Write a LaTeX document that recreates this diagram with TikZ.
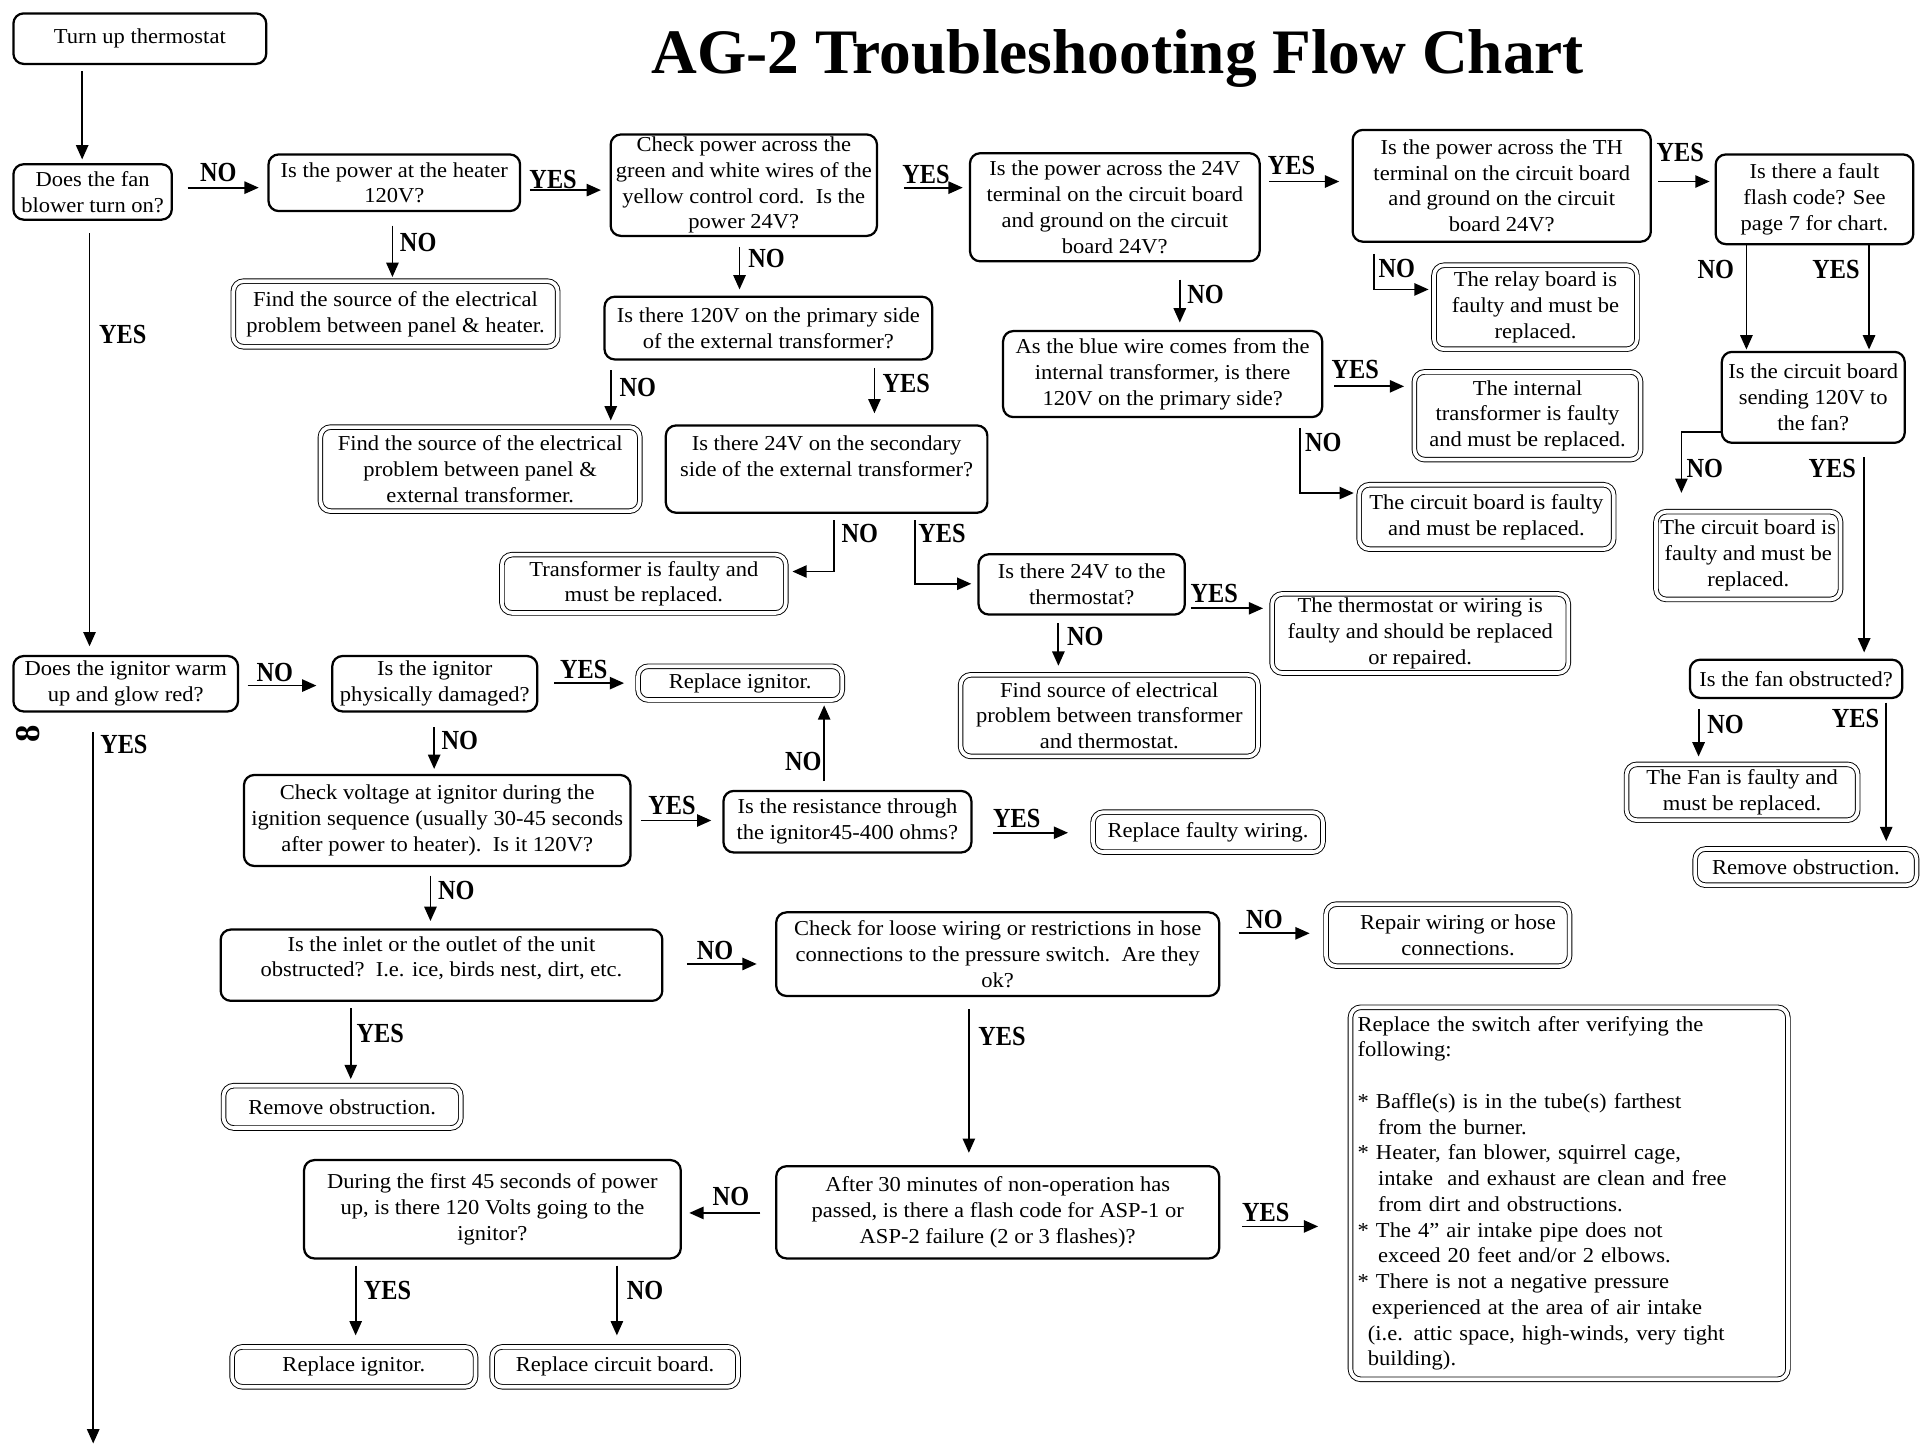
\documentclass[tikz,border=0pt]{standalone}
\usepackage{fontspec}
\setmainfont{Liberation Serif}[FakeStretch=1.06]
\newfontfamily\plainserif{Liberation Serif}
\newfontfamily\lblfam{Liberation Serif}[FakeStretch=0.88]
\usetikzlibrary{arrows.meta}
\newcommand\txtfont{\fontsize{10.4}{12.6}\selectfont}
\newcommand\lblfont{\lblfam\fontsize{13.5}{15}\selectfont\bfseries}
\tikzset{
 qbox/.style={draw, line width=1.1pt, rounded corners=5pt, inner sep=1.2pt, align=center, font=\txtfont},
 abox/.style={draw, double, double distance=1.8pt, line width=0.45pt, rounded corners=5pt, inner sep=1.2pt, align=center, font=\txtfont},
 lbl/.style={font=\lblfont, inner sep=0pt},
 arr/.style={line width=0.9pt, -{Triangle[length=7pt,width=6pt]}}
}
\newcommand\qb[6]{%
 \pgfmathsetmacro\bw{(#4-#2)*0.6-1.1}%
 \pgfmathsetmacro\bh{(#5-#3)*0.6-1.1}%
 \node[qbox, minimum width=\bw pt, minimum height=\bh pt] (#1) at ({(#2+#4)/2},{(#3+#5)/2}) {#6};}
\newcommand\ab[6]{%
 \pgfmathsetmacro\bw{(#4-#2)*0.6-2.7}%
 \pgfmathsetmacro\bh{(#5-#3)*0.6-2.7}%
 \node[abox, minimum width=\bw pt, minimum height=\bh pt] (#1) at ({(#2+#4)/2},{(#3+#5)/2}) {#6};}
\begin{document}
\begin{tikzpicture}[x=0.6pt,y=-0.6pt]
\fill[white] (0,0) rectangle (1568,1178);
\useasboundingbox (0,0) rectangle (1568,1178);
\node[font=\plainserif\fontsize{31}{36}\selectfont\bfseries, inner sep=0pt] (title) at (911.5,48) {AG-2 Troubleshooting Flow Chart};
% boxes
\qb{T0}{10}{10}{218}{53}{Turn up thermostat}
\qb{Q1}{10}{133}{141}{180}{Does the fan\\blower turn on?}
\qb{Q2}{218}{125}{425}{173}{Is the power at the heater\\120V?}
\ab{A1}{188}{227}{457}{285}{Find the source of the electrical\\problem between panel \& heater.}
\qb{Q3}{497}{110}{716}{192}{Check power across the\\green and white wires of the\\yellow control cord.\ \ Is the\\power 24V?}
\qb{Q4}{492}{241}{761}{294}{Is there 120V on the primary side\\of the external transformer?}
\ab{A2}{259}{346}{524}{419}{Find the source of the electrical\\problem between panel \&\\external transformer.}
\qb{Q5}{542}{346}{806}{419}{Is there 24V on the secondary\\side of the external transformer?\\ \mbox{}}
\ab{A3}{407}{450}{643}{502}{Transformer is faulty and\\must be replaced.}
\qb{Q6}{790}{124}{1028}{214}{Is the power across the 24V\\terminal on the circuit board\\and ground on the circuit\\board 24V?}
\qb{Q7}{817}{269}{1079}{341}{As the blue wire comes from the\\internal transformer, is there\\120V on the primary side?}
\ab{A4}{1151}{301}{1340}{377}{The internal\\transformer is faulty\\and must be replaced.}
\ab{A5}{1106}{393}{1318}{450}{The circuit board is faulty\\and must be replaced.}
\qb{Q8}{1102}{105}{1347}{198}{Is the power across the TH\\terminal on the circuit board\\and ground on the circuit\\board 24V?}
\ab{A6}{1167}{214}{1337}{287}{The relay board is\\faulty and must be\\replaced.}
\qb{Q9}{1398}{125}{1561}{200}{Is there a fault\\flash code? See\\page 7 for chart.}
\qb{Q10}{1403}{286}{1554}{362}{Is the circuit board\\sending 120V to\\the fan?}
\ab{A7}{1348}{415}{1503}{491}{The circuit board is\\faulty and must be\\replaced.}
\qb{Q11}{1377}{537}{1552}{570}{Is the fan obstructed?}
\ab{A8}{1324}{621}{1517}{671}{The Fan is faulty and\\must be replaced.}
\ab{A9}{1380}{690}{1565}{724}{Remove obstruction.}
\qb{Q12}{797}{451}{967}{502}{Is there 24V to the\\thermostat?}
\ab{A10}{1035}{482}{1281}{551}{The thermostat or wiring is\\faulty and should be replaced\\or repaired.}
\ab{A11}{781}{548}{1028}{619}{Find source of electrical\\problem between transformer\\and thermostat.}
\qb{Q13}{10}{534}{195}{581}{Does the ignitor warm\\up and glow red?}
\qb{Q14}{270}{534}{439}{581}{Is the ignitor\\physically damaged?}
\ab{A12}{518}{541}{689}{573}{Replace ignitor.}
\qb{Q15}{198}{631}{515}{707}{Check voltage at ignitor during the\\ignition sequence (usually 30-45 seconds\\after power to heater).\ \ Is it 120V?}
\qb{Q16}{589}{644}{793}{696}{Is the resistance through\\the ignitor45-400 ohms?}
\ab{A13}{889}{660}{1081}{697}{Replace faulty wiring.}
\qb{Q17}{179}{757}{541}{817}{Is the inlet or the outlet of the unit\\obstructed?\ \ I.e. ice, birds nest, dirt, etc.\\[-4pt]\mbox{}}
\ab{A14}{180}{883}{378}{922}{Remove obstruction.}
\qb{Q18}{632}{743}{995}{813}{Check for loose wiring or restrictions in hose\\connections to the pressure switch.\ \ Are they\\ok?}
\ab{A15}{1079}{735}{1282}{790}{\hspace*{10pt}Repair wiring or hose\\\hspace*{10pt}connections.}
\qb{Q19}{632}{950}{995}{1027}{After 30 minutes of non-operation has\\passed, is there a flash code for ASP-1 or\\ASP-2 failure (2 or 3 flashes)?}
\qb{Q20}{247}{945}{556}{1027}{During the first 45 seconds of power\\up, is there 120 Volts going to the\\ignitor?}
\ab{A16}{187}{1096}{390}{1133}{Replace ignitor.}
\ab{A17}{399}{1096}{604}{1133}{Replace circuit board.}
\node[abox, align=left, inner sep=3.5pt, text width=207pt, minimum height=182pt] (A18) at (1279.5,973) {Replace the switch after verifying the\\following:\\ \mbox{}\\{}* Baffle(s) is in the tube(s) farthest\\\hspace*{10pt}from the burner.\\{}* Heater, fan blower, squirrel cage,\\\hspace*{10pt}intake\ \ and exhaust are clean and free\\\hspace*{10pt}from dirt and obstructions.\\{}* The 4” air intake pipe does not\\\hspace*{10pt}exceed 20 feet and/or 2 elbows.\\{}* There is not a negative pressure\\\hspace*{7pt}experienced at the area of air intake\\\hspace*{5pt}(i.e. attic space, high-winds, very tight\\\hspace*{5pt}building).};
\node[font=\plainserif\fontsize{17}{18}\selectfont\bfseries, rotate=90, inner sep=0pt] (pg) at (23,598) {8};
\coordinate (bend) at (76,1177);
% connectors
\draw[arr] ([shift={(-47,5)}]T0.south) -- ([shift={(-8.5,-3)}]Q1.north);
\draw[arr] ([shift={(12,-3.5)}]Q1.east) -- ([shift={(-7,4)}]Q2.west);
\draw[arr] ([shift={(7,6)}]Q2.east) -- ([shift={(-7,4)}]Q3.west);
\draw[arr] ([shift={(-1.5,11)}]Q2.south) -- ([shift={(-2.5,-3)}]A1.north);
\draw[arr] ([shift={(21,2)}]Q3.east) -- ([shift={(-5,-16)}]Q6.west);
\draw[arr] ([shift={(-3.5,8)}]Q3.south) -- ([shift={(-23.5,-5)}]Q4.north);
\draw[arr] ([shift={(-128.5,8)}]Q4.south) -- ([shift={(106.5,-5)}]A2.north);
\draw[arr] ([shift={(86.5,6)}]Q4.south) -- ([shift={(39,-9)}]Q5.north);
\draw[arr] ([shift={(6,5)}]Q5.south) |- ([shift={(5,-10)}]A3.east);
\draw[arr] ([shift={(72,5)}]Q5.south) |- ([shift={(-5,-0.5)}]Q12.west);
\draw[arr] ([shift={(7,-21)}]Q6.east) -- ([shift={(-10,-3.5)}]Q8.west);
\draw[arr] ([shift={(53,14)}]Q6.south) -- ([shift={(14,-6)}]Q7.north);
\draw[arr] ([shift={(9,10)}]Q7.east) -- ([shift={(-8,-24)}]A4.west);
\draw[arr] ([shift={(112,8)}]Q7.south) |- ([shift={(-4,-19.5)}]A5.west);
\draw[arr] ([shift={(-104.5,9)}]Q8.south) |- ([shift={(-4,-14.5)}]A6.west);
\draw[arr] ([shift={(5,-3.5)}]Q8.east) -- ([shift={(-4,-14.5)}]Q9.west);
\draw[arr] ([shift={(-55.5,0)}]Q9.south) -- ([shift={(-54.5,-1)}]Q10.north);
\draw[arr] ([shift={(44.5,0)}]Q9.south) -- ([shift={(45.5,-1)}]Q10.north);
\draw[arr] ([shift={(0,28)}]Q10.west) -| ([shift={(-54.5,-15)}]A7.north);
\draw[arr] ([shift={(41.5,11)}]Q10.south) -- ([shift={(55.5,-5)}]Q11.north);
\draw[arr] ([shift={(-79.5,8)}]Q11.south) -- ([shift={(-35.5,-6)}]A8.north);
\draw[arr] ([shift={(73.5,3)}]Q11.south) -- ([shift={(65.5,-6)}]A9.north);
\draw[arr] ([shift={(4,19.5)}]Q12.east) -- ([shift={(-7,-20.5)}]A10.west);
\draw[arr] ([shift={(-19,6)}]Q12.south) -- ([shift={(-41.5,-7)}]A11.north);
\draw[arr] ([shift={(-2.5,10)}]Q1.south) -- ([shift={(-29.5,-7)}]Q13.north);
\draw[arr] ([shift={(7,1.5)}]Q13.east) -- ([shift={(-12,1.5)}]Q14.west);
\draw[arr] ([shift={(13,-0.5)}]Q14.east) -- ([shift={(-11,0)}]A12.west);
\draw[arr] ([shift={(-0.5,12)}]Q14.south) -- ([shift={(-2.5,-4)}]Q15.north);
\draw[arr] ([shift={(8,0)}]Q15.east) -- ([shift={(-9,-1)}]Q16.west);
\draw[arr] ([shift={(-19,-7)}]Q16.north) -- ([shift={(68.5,4)}]A12.south);
\draw[arr] ([shift={(17,9)}]Q16.east) -- ([shift={(-20,0.5)}]A13.west);
\draw[arr] ([shift={(-5.5,7)}]Q15.south) -- ([shift={(-9,-6)}]Q17.north);
\draw[arr] ([shift={(19,-1)}]Q17.east) -- ([shift={(-15,8)}]Q18.west);
\draw[arr] ([shift={(-74,5)}]Q17.south) -- ([shift={(7,-5)}]A14.north);
\draw[arr] ([shift={(15,-17)}]Q18.east) -- ([shift={(-13,-1.5)}]A15.west);
\draw[arr] ([shift={(-23.5,10)}]Q18.south) -- ([shift={(-23.5,-10)}]Q19.north);
\draw[arr] ([shift={(-12,0.5)}]Q19.west) -- ([shift={(6,3)}]Q20.east);
\draw[arr] ([shift={(18,11.5)}]Q19.east) -- ([shift={(-26,27)}]A18.west);
\draw[arr] ([shift={(-111.5,5)}]Q20.south) -- ([shift={(1.5,-9)}]A16.north);
\draw[arr] ([shift={(101.5,5)}]Q20.south) -- ([shift={(1.5,-9)}]A17.north);
\draw[arr] ([shift={(-26.5,16)}]Q13.south) -- (bend);
% labels
\node[lbl] (l1) at (178,141) {NO};
\node[lbl] (l2) at (451,146) {YES};
\node[lbl] (l3) at (341,198) {NO};
\node[lbl] (l4) at (755,142) {YES};
\node[lbl] (l5) at (625,211) {NO};
\node[lbl] (l6) at (520,316) {NO};
\node[lbl] (l7) at (739,313) {YES};
\node[lbl] (l8) at (701,435) {NO};
\node[lbl] (l9) at (768,435) {YES};
\node[lbl] (l10) at (1053,135) {YES};
\node[lbl] (l11) at (983,240) {NO};
\node[lbl] (l12) at (1105,301) {YES};
\node[lbl] (l13) at (1079,361) {NO};
\node[lbl] (l14) at (1139,219) {NO};
\node[lbl] (l15) at (1370,124) {YES};
\node[lbl] (l16) at (1399,220) {NO};
\node[lbl] (l17) at (1497,220) {YES};
\node[lbl] (l18) at (1390,382) {NO};
\node[lbl] (l19) at (1494,382) {YES};
\node[lbl] (l20) at (1407,591) {NO};
\node[lbl] (l21) at (1513,586) {YES};
\node[lbl] (l22) at (990,484) {YES};
\node[lbl] (l23) at (885,519) {NO};
\node[lbl] (l24) at (100,273) {YES};
\node[lbl] (l25) at (224,548) {NO};
\node[lbl] (l26) at (476,546) {YES};
\node[lbl] (l27) at (375,604) {NO};
\node[lbl] (l28) at (548,657) {YES};
\node[lbl] (l29) at (655,621) {NO};
\node[lbl] (l30) at (829,667) {YES};
\node[lbl] (l31) at (372,726) {NO};
\node[lbl] (l32) at (583,775) {NO};
\node[lbl] (l33) at (310,843) {YES};
\node[lbl] (l34) at (1031,750) {NO};
\node[lbl] (l35) at (817,845) {YES};
\node[lbl] (l36) at (596,976) {NO};
\node[lbl] (l37) at (1032,989) {YES};
\node[lbl] (l38) at (316,1052) {YES};
\node[lbl] (l39) at (526,1052) {NO};
\node[lbl] (l40) at (101,607) {YES};
\end{tikzpicture}
\end{document}
